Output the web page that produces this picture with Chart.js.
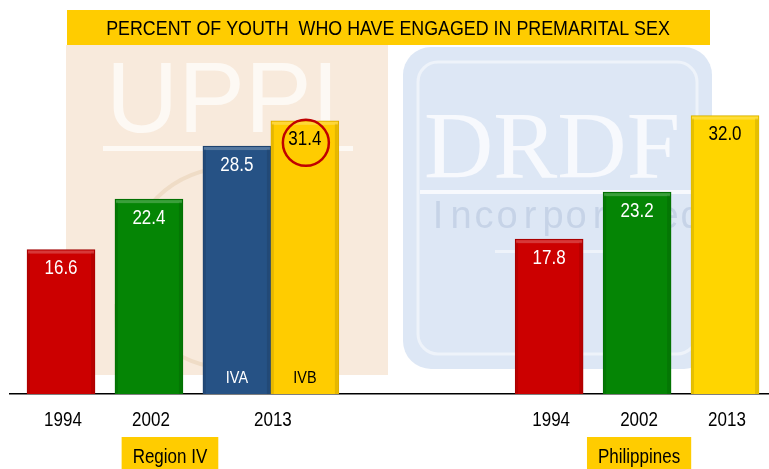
<!DOCTYPE html>
<html>
<head>
<meta charset="utf-8">
<script src="https://cdn.jsdelivr.net/npm/chart.js@4/dist/chart.umd.min.js"></script>
<style>
	html, body { margin: 0; padding: 0; background: #fff; }
	#wrap { width: 769px; height: 469px; }
</style>
</head>
<body>
<div id="wrap"><canvas id="bar-chart" width="769" height="469"></canvas></div>
<script>
var titulo = 'PERCENT OF YOUTH  WHO HAVE ENGAGED IN PREMARITAL SEX';
var anios = ['1994', '2002', '2013'];
var grupos = ['Region IV', 'Philippines'];
var subRegiones = ['IVA', 'IVB'];
var regionIV = [16.6, 22.4, 28.5];	// 2013 es IVA
var regionIVB = [31.4];
var filipinas = [17.8, 23.2, 32.0];

var FUENTE = "'Liberation Sans', Arial, sans-serif";
var ANGOSTO = 0.85;	// no hay Arial Narrow, se comprime a mano
var SLOT = 88, ANCHO = 68, DESFASE = 5.55;

var coloresRegion = ['#cc0000', '#058505', '#265285'];
var bordesRegion = ['#a00000', '#036a03', '#1c3f69'];
var colorIVB = '#ffcc00', bordeIVB = '#d9a800';
var coloresFil = ['#cc0000', '#058505', '#ffd500'];
var bordesFil = ['#a00000', '#036a03', '#d4b000'];

// armar puntos, colores y ticks
var puntos = [], colores = [], bordes = [], textos = [];
var posTicks = [], etiquetas = [];
regionIV.forEach(function (v, i) {
	puntos.push({x: i, y: v});
	colores.push(coloresRegion[i]);
	bordes.push(bordesRegion[i]);
	textos.push('#fff');
});
puntos.push({x: 2 + ANCHO / SLOT, y: regionIVB[0]});
colores.push(colorIVB);
bordes.push(bordeIVB);
textos.push('#000');
filipinas.forEach(function (v, i) {
	puntos.push({x: DESFASE + i, y: v});
	colores.push(coloresFil[i]);
	bordes.push(bordesFil[i]);
	textos.push(i == 2 ? '#000' : '#fff');
});
anios.forEach(function (a, i) {
	posTicks.push(i == 2 ? i + ANCHO / SLOT / 2 : i);
	etiquetas.push(a);
});
anios.forEach(function (a, i) {
	posTicks.push(DESFASE + i);
	etiquetas.push(a);
});

function rrect(ctx, x, y, w, h, r) {
	ctx.beginPath();
	ctx.moveTo(x + r, y);
	ctx.arcTo(x + w, y, x + w, y + h, r);
	ctx.arcTo(x + w, y + h, x, y + h, r);
	ctx.arcTo(x, y + h, x, y, r);
	ctx.arcTo(x, y, x + w, y, r);
	ctx.closePath();
}

var texto = function (ctx, s, x, y) {
	ctx.save();
	ctx.translate(x, y);
	ctx.scale(ANGOSTO, 1);
	ctx.fillText(s, 0, 0);
	ctx.restore();
};

// logos de fondo, muy tenues
var fondo = {
	id: 'fondo',
	beforeDraw: function (chart) {
		var ctx = chart.ctx;
		ctx.save();
		ctx.fillStyle = '#fff';
		ctx.fillRect(0, 0, chart.width, chart.height);

		ctx.fillStyle = '#f8eadc';
		ctx.fillRect(66, 45, 322, 330);
		ctx.fillStyle = '#fdf9f4';
		ctx.font = '100px ' + FUENTE;
		ctx.textAlign = 'left';
		ctx.textBaseline = 'alphabetic';
		ctx.fillText('UPPI', 106, 132);
		ctx.fillRect(103, 146, 250, 5);
		ctx.strokeStyle = '#efdcc6';
		ctx.lineWidth = 4;
		ctx.beginPath();
		ctx.arc(228, 268, 100, 0, Math.PI * 2);
		ctx.stroke();
		ctx.fillStyle = '#f1e0cd';
		ctx.font = 'bold 150px ' + "'Liberation Serif', serif";
		ctx.fillText('5', 108, 330);

		ctx.fillStyle = '#dde7f5';
		rrect(ctx, 403, 47, 309, 322, 28);
		ctx.fill();
		ctx.strokeStyle = '#eef3fa';
		ctx.lineWidth = 3;
		rrect(ctx, 418, 62, 279, 292, 20);
		ctx.stroke();
		ctx.fillStyle = '#f7f9fd';
		ctx.font = '96px ' + "'Liberation Serif', 'DejaVu Serif', serif";
		ctx.fillText('DRDF', 424, 178);
		ctx.fillRect(420, 190, 275, 4);
		ctx.fillStyle = '#c6d3e7';
		ctx.font = '38px ' + FUENTE;
		ctx.textAlign = 'center';
		'Incorporated'.split('').forEach(function (l, i) { ctx.fillText(l, 438 + i * 23, 228); });
		ctx.fillStyle = '#eef3fa';
		ctx.fillRect(495, 250, 125, 3);
		ctx.restore();
	}
};

// un poco de relieve en las barras
var relieve = {
	id: 'relieve',
	afterDatasetsDraw: function (chart) {
		var ctx = chart.ctx;
		ctx.save();
		chart.getDatasetMeta(0).data.forEach(function (bar) {
			var l = bar.x - bar.width / 2, h = bar.base - bar.y;
			ctx.fillStyle = 'rgba(255,255,255,0.22)';
			ctx.fillRect(l + 1, bar.y + 1, bar.width - 2, 3);
			ctx.fillStyle = 'rgba(0,0,0,0.10)';
			ctx.fillRect(l + bar.width - 4, bar.y + 3, 3, h - 3);
			ctx.fillRect(l + 1, bar.y + 3, 2, h - 3);
		});
		ctx.restore();
	}
};

var rotulos = {
	id: 'rotulos',
	afterDraw: function (chart) {
		var ctx = chart.ctx;
		var meta = chart.getDatasetMeta(0);
		var xs = chart.scales.x;
		ctx.save();
		ctx.textAlign = 'center';
		ctx.textBaseline = 'middle';

		// titulo
		ctx.fillStyle = '#ffcc00';
		ctx.fillRect(67, 10, 643, 35);
		ctx.fillStyle = '#000';
		ctx.font = '21px ' + FUENTE;
		texto(ctx, titulo, 388, 29);

		// valores sobre cada barra
		ctx.font = '20px ' + FUENTE;
		meta.data.forEach(function (bar, i) {
			ctx.fillStyle = textos[i];
			texto(ctx, puntos[i].y.toFixed(1), bar.x, bar.y + 19);
		});

		// IVA / IVB
		ctx.font = '17px ' + FUENTE;
		var a = meta.data[2], b = meta.data[3];
		ctx.fillStyle = '#fff';
		texto(ctx, subRegiones[0], a.x, 378);
		ctx.fillStyle = '#000';
		texto(ctx, subRegiones[1], b.x, 378);

		// circulo rojo sobre 31.4
		ctx.strokeStyle = '#c00000';
		ctx.lineWidth = 2.5;
		ctx.beginPath();
		ctx.arc(b.x + 1, b.y + 22, 23, 0, Math.PI * 2);
		ctx.stroke();

		// anios debajo del eje
		ctx.font = '20px ' + FUENTE;
		ctx.fillStyle = '#000';
		posTicks.forEach(function (v, i) {
			texto(ctx, etiquetas[i], xs.getPixelForValue(v) + 2, 420);
		});

		// cajas de grupo
		var centros = [xs.getPixelForValue(1) + 21, xs.getPixelForValue(DESFASE + 1) + 2];
		grupos.forEach(function (g, i) {
			var w = ctx.measureText(g).width * ANGOSTO + 22;
			ctx.fillStyle = '#ffcc00';
			ctx.fillRect(centros[i] - w / 2, 437, w, 32);
			ctx.fillStyle = '#000';
			texto(ctx, g, centros[i], 457);
		});
		ctx.restore();
	}
};

var ctx = document.getElementById('bar-chart').getContext('2d');
var chart = new Chart(ctx, {
	type: 'bar',
	data: {
		datasets: [{
			data: puntos,
			backgroundColor: colores,
			borderColor: bordes,
			borderWidth: 1,
			barThickness: ANCHO
		}]
	},
	options: {
		responsive: false,
		animation: false,
		layout: { padding: { left: 10, right: 0, top: 46, bottom: 0 } },
		plugins: {
			legend: { display: false },
			tooltip: { enabled: false }
		},
		scales: {
			x: {
				type: 'linear',
				min: -0.58,
				max: 8.05,
				offset: false,
				grid: { display: false, drawTicks: false, offset: false },
				border: { display: true, color: '#000', width: 1.5 },
				afterBuildTicks: function (s) {
					s.ticks = posTicks.map(function (v) { return {value: v}; });
				},
				afterFit: function (s) { s.height = 75; },
				ticks: { display: false }
			},
			y: { display: false, min: 0, max: 40 }
		}
	},
	plugins: [fondo, relieve, rotulos]
});
</script>
</body>
</html>
